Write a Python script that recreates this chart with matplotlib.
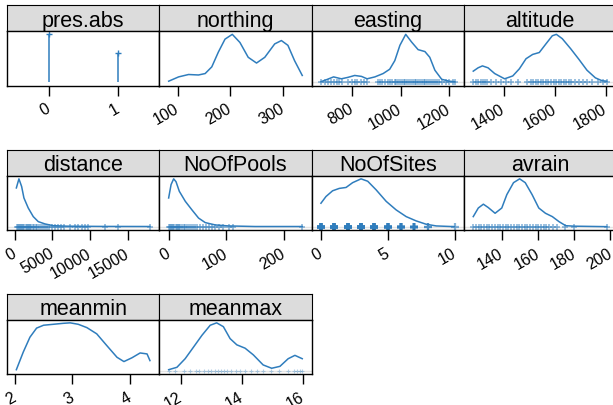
import matplotlib
matplotlib.use("Agg")
import matplotlib.pyplot as plt
import numpy as np

plt.rcParams['font.family'] = ['Liberation Sans', 'DejaVu Sans']

BLUE = '#2f7dbd'
STRIP = '#dcdcdc'

# density estimates (relative height, peak = 1) and rug values per variable
pres_support = [-0.475, 1.455]
pres_vals = [0, 1]
pres_dens = [1.0, 0.61]

northing_x = [83.0, 101.9, 120.8, 139.6, 152.3, 164.9, 177.4, 190.0, 203.8,
              218.3, 234.0, 249.8, 265.5, 284.3, 297.0, 309.4, 322.0, 336.6]
northing_d = [0.02, 0.11, 0.16, 0.15, 0.18, 0.32, 0.63, 0.90, 1.0,
              0.83, 0.52, 0.40, 0.52, 0.80, 0.87, 0.77, 0.45, 0.14]

easting_x = [672, 694, 724, 756, 783, 811, 839, 862, 894, 928, 955, 976,
             997, 1021, 1045, 1072, 1100, 1120, 1141, 1169, 1200, 1222]
easting_d = [0.01, 0.05, 0.11, 0.07, 0.10, 0.14, 0.12, 0.07, 0.11, 0.18, 0.27,
             0.45, 0.77, 1.0, 0.84, 0.68, 0.64, 0.52, 0.25, 0.06, 0.02, 0.01]
easting_rug = [672, 690, 700, 712, 725, 738, 745, 760, 785, 800, 812, 820, 835,
               848, 860, 905, 915, 925, 935, 948, 955, 965, 975, 982, 990, 998,
               1005, 1012, 1020, 1028, 1035, 1042, 1050, 1058, 1065, 1072, 1080,
               1088, 1095, 1102, 1110, 1118, 1125, 1132, 1140, 1150, 1160, 1172,
               1185, 1200, 1215, 1222]

altitude_x = [1280, 1299, 1316, 1338, 1364, 1403, 1435, 1461, 1487, 1513, 1539,
              1565, 1590, 1606, 1629, 1662, 1694, 1726, 1759, 1785, 1804]
altitude_d = [0.23, 0.30, 0.34, 0.30, 0.18, 0.07, 0.13, 0.28, 0.49, 0.58, 0.62,
              0.80, 0.97, 1.0, 0.91, 0.70, 0.48, 0.25, 0.09, 0.03, 0.02]
altitude_rug = [1280, 1290, 1300, 1310, 1318, 1325, 1335, 1350, 1370, 1390, 1410,
                1430, 1455, 1490, 1505, 1515, 1525, 1535, 1545, 1555, 1565, 1575,
                1585, 1595, 1605, 1615, 1625, 1635, 1645, 1655, 1665, 1680, 1695,
                1710, 1725, 1745, 1770, 1790, 1804]

distance_x = [230, 570, 928, 1233, 1804, 2467, 3130, 4019, 5119, 6897,
              11313, 17910]
distance_d = [0.81, 1.0, 0.84, 0.60, 0.39, 0.21, 0.105, 0.057, 0.02, 0.01,
              0.005, 0.003]
distance_rug = [250, 400, 550, 700, 850, 1000, 1150, 1300, 1450, 1600, 1750,
                1900, 2050, 2200, 2400, 2600, 2800, 3000, 3250, 3500, 3750, 4000,
                4300, 4600, 4900, 5300, 5800, 6200, 6600, 7300, 8000, 8400, 8900,
                9300, 9700, 12000, 13700, 17900]

pools_x = [0, 4.2, 8.7, 12.8, 18.5, 28.9, 40.5, 51.9, 63.5, 80.8, 103.8, 150, 232]
pools_d = [0.60, 0.88, 1.0, 0.94, 0.74, 0.53, 0.35, 0.18, 0.085, 0.036, 0.015,
           0.003, 0.003]
pools_rug = [0, 2, 4, 6, 8, 10, 12, 14, 16, 18, 20, 23, 26, 29, 32, 35, 38, 42,
             46, 50, 55, 60, 65, 70, 75, 80, 88, 95, 105, 112, 232]

sites_x = [0, 0.375, 0.87, 1.37, 1.88, 2.37, 3.0, 3.5, 4.13, 4.88, 5.63, 6.38,
           7.13, 7.88, 8.63, 10]
sites_d = [0.49, 0.63, 0.75, 0.80, 0.82, 0.92, 1.0, 0.95, 0.77, 0.53, 0.35, 0.21,
           0.12, 0.05, 0.015, 0.0]
sites_vals = [0, 1, 2, 3, 4, 5, 6, 7, 8, 9, 10]
sites_counts = [29, 32, 34, 37, 30, 22, 15, 10, 2, 0, 1]

avrain_x = [124.0, 126.8, 129.6, 132.3, 136.1, 139.8, 142.6, 146.3, 149.7, 152.8,
            156.6, 160.3, 164.0, 167.8, 171.5, 175.2, 179.8, 198.0]
avrain_d = [0.21, 0.39, 0.47, 0.40, 0.28, 0.39, 0.67, 0.92, 1.0, 0.92, 0.67,
            0.39, 0.28, 0.21, 0.105, 0.02, 0.01, 0.0]
avrain_rug = [124, 125.5, 127, 128.5, 130, 131.5, 133, 134.5, 136, 137.5, 139,
              140.5, 142, 143.5, 145, 146.5, 148, 149.5, 151, 152.5, 154, 155.5,
              157, 158.5, 160, 161.5, 163, 164.5, 166, 168, 170.5, 175, 180, 198]

meanmin_x = [2.03, 2.15, 2.265, 2.38, 2.50, 2.67, 2.84, 2.96, 3.10, 3.25, 3.42,
             3.59, 3.77, 3.89, 4.03, 4.17, 4.29, 4.34]
meanmin_d = [0.02, 0.39, 0.70, 0.89, 0.95, 0.97, 0.99, 1.0, 0.97, 0.90, 0.77,
             0.53, 0.28, 0.19, 0.27, 0.37, 0.35, 0.21]

meanmax_x = [11.60, 11.87, 12.14, 12.41, 12.69, 12.96, 13.17, 13.39, 13.61,
             13.83, 14.10, 14.37, 14.69, 14.97, 15.24, 15.51, 15.73, 15.97]
meanmax_d = [0.02, 0.07, 0.25, 0.49, 0.74, 0.95, 1.0, 0.92, 0.67, 0.54, 0.47,
             0.33, 0.12, 0.05, 0.09, 0.25, 0.32, 0.25]
meanmax_rug = [11.6, 11.8, 12.1, 12.3, 12.5, 12.6, 12.75, 12.9, 13.0, 13.1, 13.2,
               13.3, 13.4, 13.5, 13.65, 13.8, 13.95, 14.1, 14.3, 14.5, 14.7,
               14.95, 15.2, 15.5, 15.7, 15.8, 15.9, 15.97]

names = ['pres.abs', 'northing', 'easting', 'altitude', 'distance', 'NoOfPools',
         'NoOfSites', 'avrain', 'meanmin', 'meanmax']
ticks = [[0, 1], [100, 200, 300], [800, 1000, 1200], [1400, 1600, 1800],
         [0, 5000, 10000, 15000], [0, 100, 200], [0, 5, 10],
         [140, 160, 180, 200], [2, 3, 4], [12, 14, 16]]

curves = [None, (northing_x, northing_d), (easting_x, easting_d),
          (altitude_x, altitude_d), (distance_x, distance_d), (pools_x, pools_d),
          (sites_x, sites_d), (avrain_x, avrain_d), (meanmin_x, meanmin_d),
          (meanmax_x, meanmax_d)]
rugs = [None, None, easting_rug, altitude_rug, distance_rug, pools_rug,
        np.repeat(sites_vals, sites_counts), avrain_rug, None, meanmax_rug]

W, H = 613, 406
fig = plt.figure(figsize=(W / 100, H / 100), dpi=100)

col_left = [7, 159.3, 311.6, 463.9]
panel_w = 152.3
strip_top = [6, 150.5, 294.5]
strip_h = 26
panel_h = 54.5


def px_axes(x0, y0, w, h):
    return fig.add_axes([x0 / W, 1 - (y0 + h) / H, w / W, h / H])


for i, name in enumerate(names):
    r, c = divmod(i, 4)
    x0 = col_left[c]
    y0 = strip_top[r]

    # strip with the variable name
    sax = px_axes(x0, y0, panel_w, strip_h)
    sax.set_facecolor(STRIP)
    sax.set_xticks([])
    sax.set_yticks([])
    sax.text(0.5, 0.2, name, ha='center', va='baseline', fontsize=15.5,
             transform=sax.transAxes)

    ax = px_axes(x0, y0 + strip_h, panel_w, panel_h)

    if i == 0:
        lo, hi = pres_support
        ax.vlines(pres_vals, 0, pres_dens, color=BLUE, lw=1.1)
        ax.plot(pres_vals, pres_dens, '+', color=BLUE, ms=5, mew=1)
    else:
        xs, ds = curves[i]
        lo, hi = min(xs), max(xs)
        rug = rugs[i]
        if rug is not None:
            ax.axhline(0, color='#e4e4e4', lw=1.0, zorder=0)
            if name == 'meanmax':
                ms, mew, alpha = 3, 0.8, 0.35
            elif name == 'NoOfSites':
                ms, mew, alpha = 6, 1.6, 0.6
            else:
                ms, mew, alpha = 5, 1.1, 0.6
            ax.plot(rug, np.zeros(len(rug)), '+', color=BLUE, ms=ms, mew=mew,
                    alpha=alpha, linestyle='none')
        ax.plot(xs, ds, color=BLUE, lw=1.1)

    rng = hi - lo
    ax.set_xlim(lo - 0.07 * rng, hi + 0.07 * rng)
    ax.set_ylim(-0.07, 1.07)
    ax.set_yticks([])
    ax.set_xticks(ticks[i])
    ax.set_xticklabels([str(t) for t in ticks[i]], rotation=30, ha='right',
                       va='center', rotation_mode='anchor')
    ax.tick_params(axis='x', length=7, width=1, pad=8.5, labelsize=11.5)
    for sp in ax.spines.values():
        sp.set_linewidth(1.0)

fig.savefig('out.png', dpi=100)
